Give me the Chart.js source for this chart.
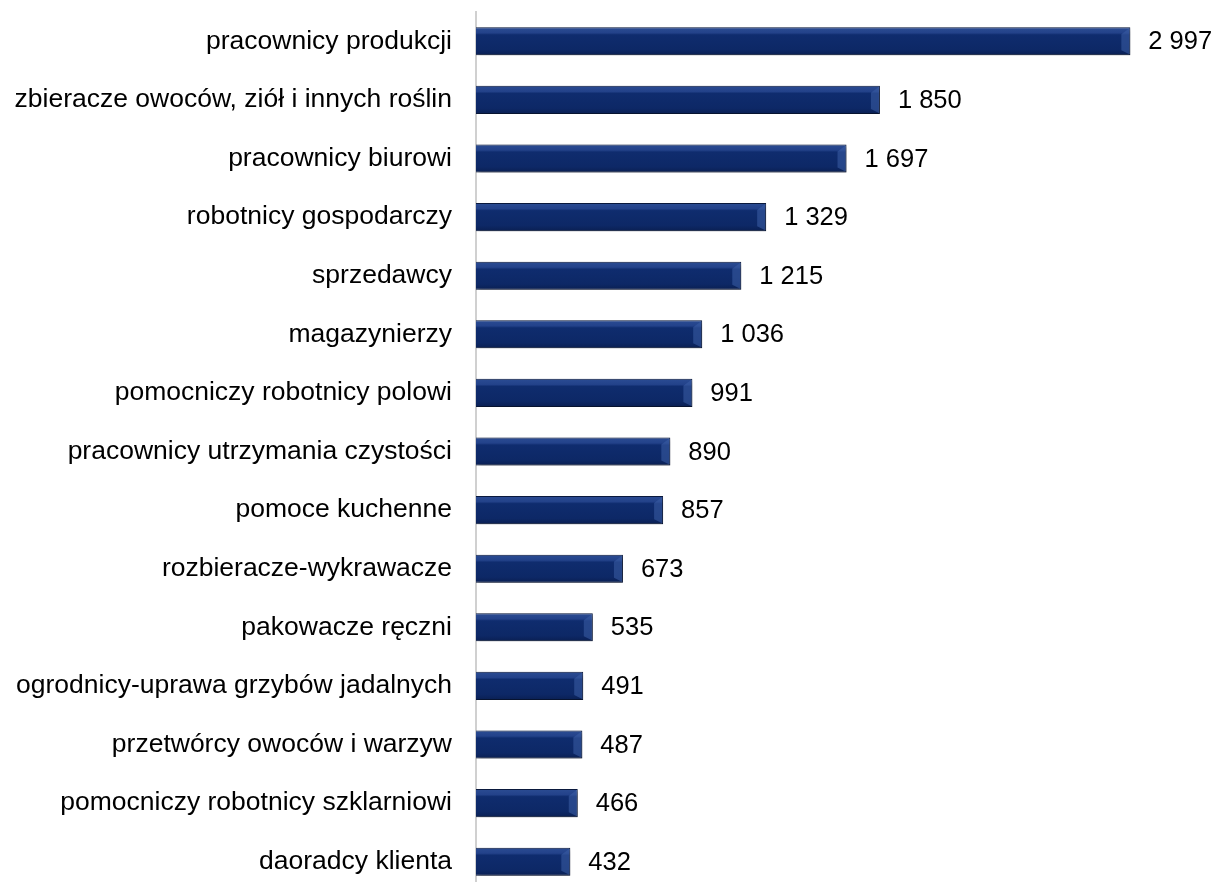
<!DOCTYPE html>
<html lang="pl">
<head>
<meta charset="UTF-8">
<script src="https://cdn.jsdelivr.net/npm/chart.js"></script>
<style>
  html, body { margin: 0; padding: 0; background: #fff; overflow: hidden; }
  .wrap { position: relative; width: 1215px; height: 900px; }
</style>
<title>Zawody</title>
</head>
<body>
<div class="wrap"><canvas id="myChart"></canvas></div>
<script>
const labels = [
  "pracownicy produkcji",
  "zbieracze owoców, ziół i innych roślin",
  "pracownicy biurowi",
  "robotnicy gospodarczy",
  "sprzedawcy",
  "magazynierzy",
  "pomocniczy robotnicy polowi",
  "pracownicy utrzymania czystości",
  "pomoce kuchenne",
  "rozbieracze-wykrawacze",
  "pakowacze ręczni",
  "ogrodnicy-uprawa grzybów jadalnych",
  "przetwórcy owoców i warzyw",
  "pomocniczy robotnicy szklarniowi",
  "daoradcy klienta"
];
const values = [2997, 1850, 1697, 1329, 1215, 1036, 991, 890, 857, 673, 535, 491, 487, 466, 432];
const barPct = 0.48;

function fmt(v) {
  return String(v).replace(/\B(?=(\d{3})+(?!\d))/g, " ");
}

// gradient bevel for the bars, worked out from the y scale
function barFill(context) {
  const chart = context.chart;
  const ys = chart.scales.y;
  if (!ys || !chart.chartArea) return '#0f2c6e';
  const cy = ys.getPixelForValue(context.dataIndex);
  const h = (ys.height / labels.length) * barPct;
  const top = cy - h / 2;
  if (!isFinite(top) || !isFinite(h) || h <= 0) return '#0f2c6e';
  const g = chart.ctx.createLinearGradient(0, top, 0, top + h);
  g.addColorStop(0, '#2b4c93');
  g.addColorStop(0.2, '#23428a');
  g.addColorStop(0.27, '#0f2c6e');
  g.addColorStop(0.8, '#0d2866');
  g.addColorStop(1, '#0a1f52');
  return g;
}

const shadowPlugin = {
  id: 'shadow',
  beforeDatasetsDraw(chart) {
    const ctx = chart.ctx;
    ctx.save();
    ctx.shadowColor = 'rgba(0,0,0,0.35)';
    ctx.shadowBlur = 4;
    ctx.shadowOffsetX = 2;
    ctx.shadowOffsetY = 2;
  },
  afterDatasetsDraw(chart) {
    chart.ctx.restore();
  }
};

// little bevel at the right end of each bar + value labels
const valueLabels = {
  id: 'valueLabels',
  afterDraw(chart) {
    const ctx = chart.ctx;
    const meta = chart.getDatasetMeta(0);
    ctx.save();
    meta.data.forEach(function (bar) {
      const t = bar.y - bar.height / 2 + 1;
      const b = bar.y + bar.height / 2 - 1;
      const r = bar.x - 1;
      ctx.fillStyle = 'rgba(60,95,165,0.55)';
      ctx.beginPath();
      ctx.moveTo(r - 8, t + 6);
      ctx.lineTo(r, t);
      ctx.lineTo(r, b);
      ctx.lineTo(r - 8, b - 4);
      ctx.closePath();
      ctx.fill();
    });
    ctx.fillStyle = '#000';
    ctx.font = '25.5px "Liberation Sans", Arial, sans-serif';
    ctx.textBaseline = 'middle';
    ctx.textAlign = 'left';
    meta.data.forEach(function (bar, i) {
      ctx.fillText(fmt(values[i]), bar.x + 18, bar.y + 1);
    });
    ctx.restore();
  }
};

const data = {
  labels: labels,
  datasets: [{
    data: values,
    backgroundColor: barFill,
    borderColor: '#0a1a40',
    borderWidth: 1,
    borderSkipped: 'left',
    barPercentage: barPct,
    categoryPercentage: 1
  }]
};

const config = {
  type: 'bar',
  data: data,
  plugins: [shadowPlugin, valueLabels],
  options: {
    indexAxis: 'y',
    responsive: true,
    maintainAspectRatio: false,
    animation: false,
    layout: { padding: { top: 12, right: 84, bottom: 9, left: 0 } },
    scales: {
      x: {
        min: 0,
        max: 3000,
        display: false
      },
      y: {
        afterFit(scale) {
          scale.width = 476;
          scale.paddingTop = 0;
          scale.paddingBottom = 0;
        },
        grid: { display: false, drawTicks: false },
        border: { display: true, color: '#d0d0d0', width: 2 },
        ticks: {
          color: '#000',
          padding: 24,
          font: { family: '"Liberation Sans", Arial, sans-serif', size: 26.5 }
        }
      }
    },
    plugins: {
      legend: { display: false },
      tooltip: { enabled: false }
    }
  }
};

new Chart(document.getElementById('myChart'), config);
</script>
</body>
</html>
